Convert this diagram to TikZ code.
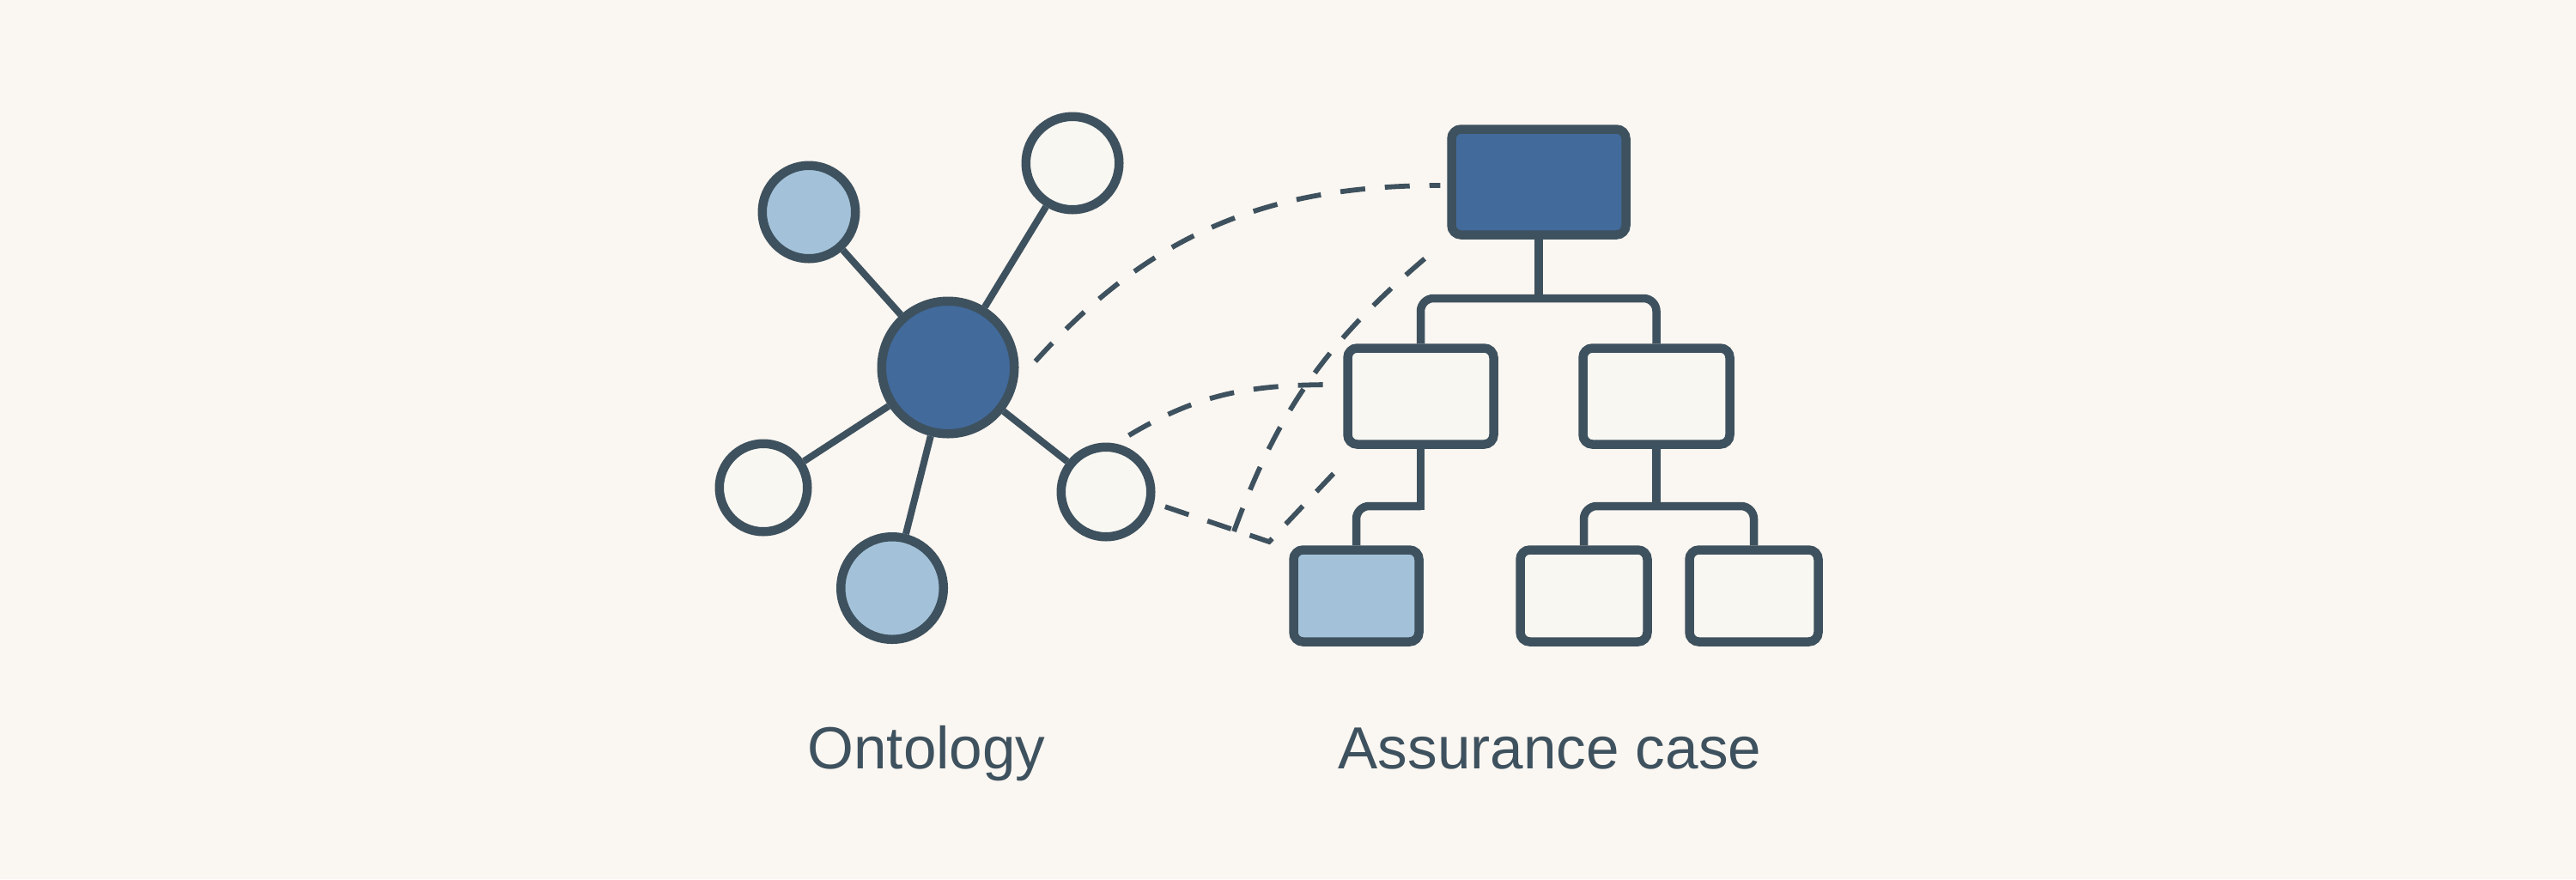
\documentclass[tikz,border=0pt]{standalone}
\usepackage{fontspec}
\setmainfont{Liberation Sans}
\usetikzlibrary{calc}
\definecolor{bg}{HTML}{FAF6F1}
\definecolor{ink}{HTML}{3E515E}
\definecolor{dblue}{HTML}{426A9B}
\definecolor{lblue}{HTML}{A3C2D9}
\definecolor{pale}{HTML}{F8F7F2}
\begin{document}
\begin{tikzpicture}[
  circ/.style={circle, draw=ink, line width=0.105cm, inner sep=0pt},
  box/.style={rectangle, draw=ink, line width=0.105cm, rounded corners=0.11cm, inner sep=0pt},
  link/.style={draw=ink, line width=0.08cm},
  conn/.style={draw=ink, line width=0.095cm},
  dashlink/.style={draw=ink, line width=0.058cm, dash pattern=on 0.29cm off 0.23cm},
  lbl/.style={text=ink, font=\fontsize{19.7}{23}\selectfont, anchor=base}
]
\fill[bg] (0,0) rectangle (30,-10.24);
\useasboundingbox (0,0) rectangle (30,-10.24);

% ontology
\node[circ, fill=dblue, minimum size=1.545cm] (c0) at (11.04,-4.28) {};
\node[circ, fill=lblue, minimum size=1.085cm] (c1) at (9.42,-2.47) {};
\node[circ, fill=pale,  minimum size=1.085cm] (c2) at (12.49,-1.90) {};
\node[circ, fill=pale,  minimum size=1.025cm] (c3) at (8.89,-5.68) {};
\node[circ, fill=lblue, minimum size=1.195cm] (c4) at (10.39,-6.85) {};
\node[circ, fill=pale,  minimum size=1.045cm] (c5) at (12.88,-5.73) {};
\draw[link] (c0) -- (c1);
\draw[link] (c0) -- (c2);
\draw[link] (c0) -- (c3);
\draw[link] (c0) -- (c4);
\draw[link] (c0) -- (c5);

% assurance case tree
\node[box, fill=dblue, minimum width=2.03cm, minimum height=1.23cm] (T) at (17.92,-2.12) {};
\node[box, fill=pale, minimum width=1.70cm, minimum height=1.12cm] (M1) at (16.545,-4.615) {};
\node[box, fill=pale, minimum width=1.71cm, minimum height=1.12cm] (M2) at (19.29,-4.615) {};
\node[box, fill=lblue, minimum width=1.46cm, minimum height=1.07cm] (B1) at (15.795,-6.94) {};
\node[box, fill=pale, minimum width=1.48cm, minimum height=1.07cm] (B2) at (18.445,-6.94) {};
\node[box, fill=pale, minimum width=1.50cm, minimum height=1.07cm] (B3) at (20.425,-6.94) {};

\coordinate (j1) at (17.92,-3.475);
\coordinate (j2) at (16.545,-5.895);
\coordinate (j3) at (19.29,-5.895);
\draw[conn] (T.south) -- (j1);
\draw[conn, rounded corners=0.15cm] (M1.north) |- (j1) -| (M2.north);
\draw[conn] (M1.south) -- ($(j2)+(0,-0.0475)$);
\draw[conn, rounded corners=0.15cm] (j2) -| (B1.north);
\draw[conn] (M2.south) -- (j3);
\draw[conn, rounded corners=0.15cm] (B2.north) |- (j3) -| (B3.north);

% dashed mappings
\coordinate (a0) at ($(c0.center)+(4:1.02)$);
\coordinate (a1) at ($(T.west)+(-0.08,-0.04)$);
\draw[dashlink] (a0) to[out=48,in=180] (a1);

\coordinate (b0) at ($(c5.center)+(68:0.71)$);
\coordinate (b1) at ($(M1.west)+(-0.09,0.135)$);
\draw[dashlink] (b0) to[out=31,in=180] (b1);

\coordinate (v0) at ($(c5.center)+(-14:0.71)$);
\coordinate (v1) at (14.78,-6.31);
\coordinate (v2) at ($(M1.south west)+(-0.02,-0.19)$);
\draw[dashlink] (v0) -- (v1) -- (v2);

\coordinate (d0) at (14.37,-6.19);
\coordinate (d1) at ($(T.south west)+(-0.16,-0.14)$);
\draw[dashlink] (d0) to[out=70,in=220] (d1);

% labels
\node[lbl] (lo) at (10.79,-8.95) {Ontology};
\node[lbl] (la) at (18.05,-8.95) {Assurance case};
\end{tikzpicture}
\end{document}
